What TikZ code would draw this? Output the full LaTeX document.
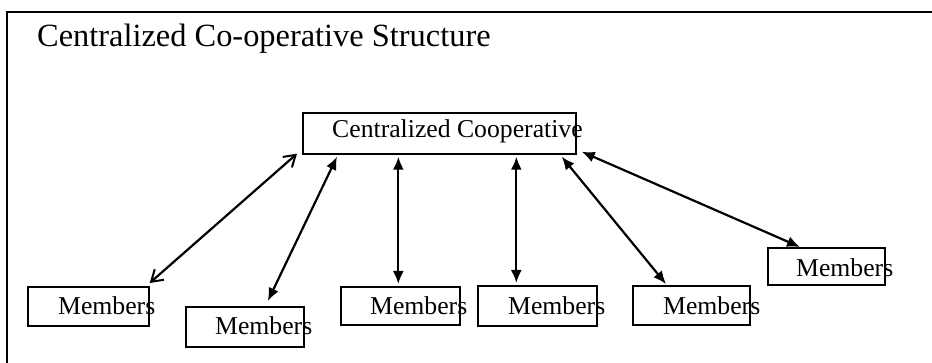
\documentclass[tikz,border=0pt]{standalone}
\usepackage{fontspec}
\setmainfont{Liberation Serif}
\usetikzlibrary{arrows.meta,calc}

\tikzset{
  box/.style={draw, line width=1.7pt, rectangle, anchor=north west, inner sep=0pt},
  boxtext/.style={anchor=base west, inner sep=0pt, font=\fontsize{25.7}{30}\selectfont},
  titletext/.style={anchor=base west, inner sep=0pt, font=\fontsize{32.4}{38}\selectfont},
  link/.style={line width=2.2pt, {Latex[length=13pt,width=11pt]}-{Latex[length=13pt,width=11pt]}},
  barblink/.style={line width=2.2pt, {Straight Barb[length=11pt,width=14pt,line width=2pt]}-{Straight Barb[length=11pt,width=14pt,line width=2pt]}}
}

\begin{document}
\begin{tikzpicture}[x=1pt, y=-1pt]
  \useasboundingbox (0,0) rectangle (932,363);

  % outer frame (only its top and left sides fall on the page)
  \draw[line width=1.6pt] (7,363) -- (7,12) -- (932,12);

  % title
  \node[titletext] (title) at (37,47) {Centralized Co-operative Structure};

  % central cooperative
  \node[box, minimum width=273pt, minimum height=41pt] (C) at (302,112) {};
  \node[boxtext] (Ct) at ($(C.north west)+(30,26)$) {Centralized Cooperative};

  % member boxes
  \node[box, minimum width=121pt, minimum height=39pt] (m1) at (27,286) {};
  \node[box, minimum width=118pt, minimum height=40pt] (m2) at (185,306) {};
  \node[box, minimum width=119pt, minimum height=38pt] (m3) at (340,286) {};
  \node[box, minimum width=119pt, minimum height=40pt] (m4) at (477,285) {};
  \node[box, minimum width=117pt, minimum height=39pt] (m5) at (632,285) {};
  \node[box, minimum width=117pt, minimum height=37pt] (m6) at (767,247) {};

  \foreach \m/\dx/\dy in {m1/31/29, m2/30/29, m3/30/29, m4/31/30, m5/31/30, m6/29/30}
    \node[boxtext] (\m t) at ($(\m.north west)+(\dx,\dy)$) {Members};

  % two-way links between the cooperative and its members
  \draw[barblink] ([xshift=-5pt,yshift=1pt]C.south west) -- ([yshift=3pt]m1.north east);
  \draw[link] ([xshift=35pt,yshift=-2pt]C.south west) -- ([xshift=23pt,yshift=5pt]m2.north);
  \draw[link] ([xshift=-2pt,yshift=-2pt]m3.north |- C.south) -- ([xshift=-2pt,yshift=2pt]m3.north);
  \draw[link] ([xshift=-21pt,yshift=-2pt]m4.north |- C.south) -- ([xshift=-21pt,yshift=2pt]m4.north);
  \draw[link] ([xshift=-15pt,yshift=-2pt]C.south east) -- ([xshift=34pt,yshift=1pt]m5.north west);
  \draw[link] ([xshift=5pt,yshift=3pt]C.south east) -- ([xshift=33pt,yshift=0pt]m6.north west);
\end{tikzpicture}
\end{document}
